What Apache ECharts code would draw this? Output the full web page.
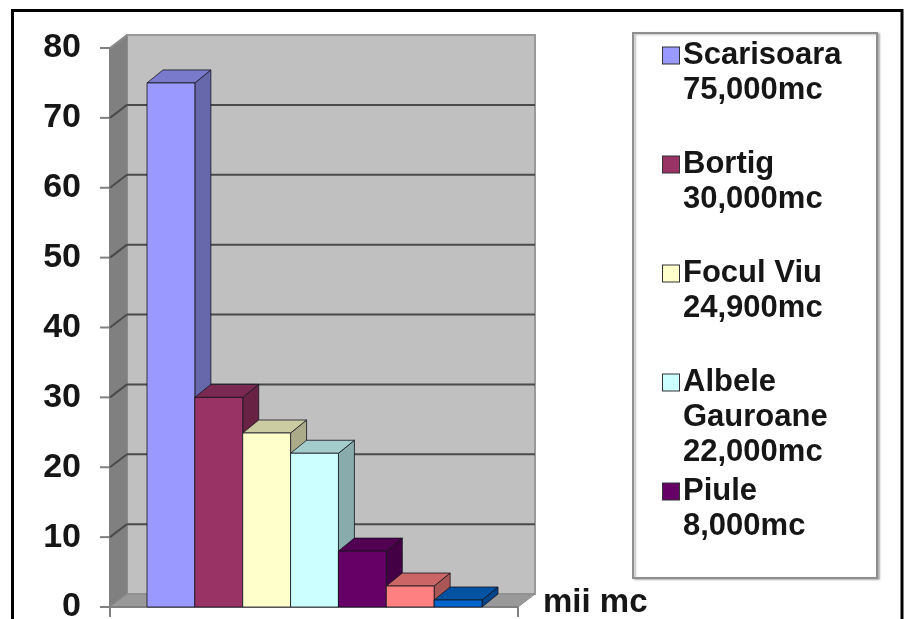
<!DOCTYPE html>
<html>
<head>
<meta charset="utf-8">
<style>html,body{margin:0;padding:0;background:#fff}#chart{width:906px;height:619px}</style>
<script src="https://cdn.jsdelivr.net/npm/echarts@6/dist/echarts.min.js"></script>
</head>
<body>
<div id="chart"></div>
<script>
// Ice cave volumes, thousands of cubic metres
const caves = ['Scarisoara', 'Bortig', 'Focul Viu', 'Albele Gauroane', 'Piule', 'Pojarul', 'Vartop'];
const volumes = [75, 30, 24.9, 22, 8, 3, 1];
const colors = ['#9999FF', '#993366', '#FFFFCC', '#CCFFFF', '#660066', '#FF8080', '#0066CC'];
const legendLabels = ['Scarisoara\n75,000mc', 'Bortig\n30,000mc', 'Focul Viu\n24,900mc', 'Albele\nGauroane\n22,000mc', 'Piule\n8,000mc'];
const yTicks = [0, 10, 20, 30, 40, 50, 60, 70, 80];

const font = '"Liberation Sans", Arial, sans-serif';
const ink = '#161616';
const depth = [17, -13];      // oblique offset of the box depth
const barDepth = [16, -13];   // oblique offset of each bar
const padLeft = 37;           // floor margin left of the bars
const padRight = 36;          // floor margin right of the bars

const chart = echarts.init(document.getElementById('chart'), null, { renderer: 'canvas' });

function shade(hex, k) {
  const rgb = echarts.color.parse(hex);
  return 'rgb(' + rgb.slice(0, 3).map(v => Math.round(v * k)).join(',') + ')';
}
function poly(points, fill, stroke, lineWidth) {
  return { type: 'polygon', shape: { points }, style: { fill, stroke: stroke || null, lineWidth: lineWidth || 0 } };
}
function seg(x1, y1, x2, y2, stroke, lineWidth) {
  return { type: 'line', shape: { x1, y1, x2, y2 }, style: { stroke, lineWidth } };
}

// Back wall, side wall, floor and gridlines of the oblique box
function renderBox(params, api) {
  const cs = params.coordSys;
  const x0 = cs.x - padLeft;
  const x1 = cs.x + cs.width + padRight;
  const dx = depth[0];
  const dy = depth[1];
  if (params.dataIndex !== 0) {
    const y = api.coord([0, api.value(0)])[1];
    const isTop = api.value(0) === yTicks[yTicks.length - 1];
    return { type: 'group', children: [
      seg(x0 - 10, y, x0, y, '#808080', 2),
      seg(x0, y, x0 + dx, y + dy, isTop ? '#8c8c8c' : '#4a4a4a', 2),
      seg(x0 + dx, y + dy, x1 + dx, y + dy, isTop ? '#9a9a9a' : '#4a4a4a', 2)
    ] };
  }
  const yT = cs.y;
  const yB = cs.y + cs.height;
  return { type: 'group', children: [
    poly([[x0 + dx, yT + dy], [x1 + dx, yT + dy], [x1 + dx, yB + dy], [x0 + dx, yB + dy]], '#C0C0C0', '#9a9a9a', 2),
    poly([[x0, yT], [x0 + dx, yT + dy], [x0 + dx, yB + dy], [x0, yB]], '#808080', '#808080', 1),
    poly([[x0, yB], [x0 + dx, yB + dy], [x1 + dx, yB + dy], [x1, yB]], '#999999', '#8c8c8c', 1),
    seg(x0, yT, x0, yB + 10, '#808080', 2),
    seg(x0, yB, x1, yB, '#808080', 2),
    seg(x1, yB, x1, yB + 10, '#808080', 2),
    seg(x0 - 10, yB, x0, yB, '#808080', 2)
  ] };
}

// One oblique bar: front face, lit top, shaded side
function renderBar(params, api) {
  const i = api.value(0);
  const top = api.coord([i, api.value(1)]);
  const base = api.coord([i, 0]);
  const w = api.size([1, 0])[0];
  const c = colors[i];
  const l = top[0] - w / 2;
  const r = top[0] + w / 2;
  const dx = barDepth[0];
  const dy = barDepth[1];
  const edge = 'rgba(20,20,30,0.8)';
  return { type: 'group', children: [
    poly([[r, top[1]], [r + dx, top[1] + dy], [r + dx, base[1] + dy], [r, base[1]]], shade(c, 0.67), edge, 1),
    poly([[l, top[1]], [l + dx, top[1] + dy], [r + dx, top[1] + dy], [r, top[1]]], shade(c, 0.8), edge, 1),
    poly([[l, top[1]], [r, top[1]], [r, base[1]], [l, base[1]]], c, edge, 1)
  ] };
}

// Legend entries: swatch on the first line, later lines indented under the name
function legendFormatter(name) {
  const i = caves.indexOf(name);
  const lines = legendLabels[i].split('\n');
  while (lines.length < 3) lines.push('');
  return lines.map((line, k) =>
    (k === 0 ? '{s' + i + '|}{gap|}' : '{pad|}') + (line ? '{t|' + line + '}' : '{t| }')
  ).join('\n');
}
const legendRich = {
  gap: { width: 4, height: 16 },
  pad: { width: 20, height: 16 },
  t: { fontFamily: font, fontSize: 31, fontWeight: 'bold', color: ink, lineHeight: 35 }
};
colors.forEach((c, i) => {
  legendRich['s' + i] = { width: 16, height: 16, backgroundColor: c, borderColor: '#333', borderWidth: 1 };
});

chart.setOption({
  animation: false,
  backgroundColor: '#fff',
  grid: { left: 147, top: 48, width: 335, height: 559, containLabel: false, outerBoundsMode: 'none' },
  xAxis: {
    type: 'category',
    data: caves,
    axisLine: { show: false },
    axisTick: { show: false },
    axisLabel: { show: false },
    splitLine: { show: false },
    name: 'mii mc',
    nameLocation: 'end',
    nameGap: 61,
    nameTextStyle: { fontFamily: font, fontSize: 33, fontWeight: 'bold', color: ink, verticalAlign: 'bottom', lineHeight: 8 }
  },
  yAxis: {
    type: 'value',
    min: 0,
    max: 80,
    interval: 10,
    offset: 37,
    axisLine: { show: false },
    axisTick: { show: false },
    splitLine: { show: false },
    axisLabel: { margin: 29, fontFamily: font, fontSize: 34, fontWeight: 'bold', color: ink }
  },
  legend: {
    orient: 'vertical',
    left: 658,
    top: 40,
    padding: 0,
    itemGap: 8,
    itemWidth: 0,
    itemHeight: 0,
    selectedMode: false,
    icon: 'rect',
    align: 'left',
    data: caves.slice(0, legendLabels.length),
    formatter: legendFormatter,
    textStyle: { padding: 0, rich: legendRich }
  },
  graphic: [
    { type: 'rect', z: -1, shape: { x: 12.5, y: 10.5, width: 889.5, height: 640 }, style: { fill: 'none', stroke: '#000', lineWidth: 3 } },
    { type: 'rect', z: -1, shape: { x: 633, y: 33, width: 244, height: 545 }, style: { fill: '#fff', stroke: '#8f8f8f', lineWidth: 2, shadowColor: 'rgba(0,0,0,0.25)', shadowBlur: 2, shadowOffsetX: 2, shadowOffsetY: 1 } }
  ],
  series: [
    {
      type: 'custom',
      name: 'box',
      silent: true,
      clip: false,
      z: 1,
      data: yTicks.map(v => [v]),
      encode: { y: 0 },
      renderItem: renderBox
    },
    ...caves.map((name, i) => ({
      type: 'custom',
      name,
      z: 2 + i,
      clip: false,
      itemStyle: { color: colors[i] },
      data: [[i, volumes[i]]],
      encode: { x: 0, y: 1 },
      renderItem: renderBar
    }))
  ]
});
</script>
</body>
</html>
